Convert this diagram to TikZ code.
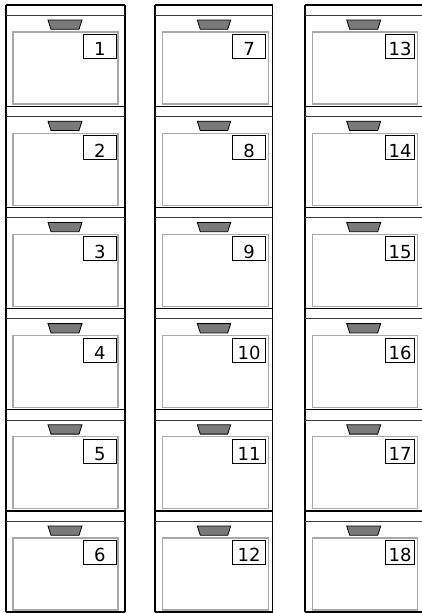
\documentclass[tikz,border=0pt]{standalone}
\usepackage{fontspec}
\setmainfont{DejaVu Sans}
\definecolor{handlefill}{HTML}{7A7A7A}
\definecolor{innergray}{HTML}{A8A8A8}
\definecolor{seconddark}{HTML}{3A3A3A}
\tikzset{
  edgeline/.style={draw=black, line width=1.3pt},
  topline/.style={draw=black, line width=1.2pt},
  secondline/.style={draw=seconddark, line width=1.1pt},
  handleshape/.style={fill=handlefill, draw=black, line width=0.8pt},
  innerbox/.style={draw=innergray, line width=1.2pt},
  numbox/.style={draw=black, line width=0.9pt, fill=white, inner xsep=0pt, inner ysep=0pt,
    text height=21.5pt, text depth=2.5pt, minimum height=24pt,
    font=\fontsize{18}{18}\selectfont, anchor=north west}
}
\begin{document}
\begin{tikzpicture}[x=1pt, y=-1pt]
\useasboundingbox (0,0) rectangle (422,613);
\clip (0,0) rectangle (422,613);
\foreach \c/\L/\R/\il/\ir/\bl/\br/\hl/\hr in {
  0/6/125/13/118/83/116/48/82,
  1/155/272.5/162.7/268.3/232.3/265/197.3/230.7,
  2/305/424/312.3/417.3/385/414.3/346.7/380.7} {
  \draw[edgeline] (\L,5) -- (\L,612.3);
  \draw[edgeline] (\R,5) -- (\R,612.3);
  \draw[topline] (\L,612) -- (\R,612);
  \foreach \r in {0,...,5} {
    \pgfmathsetmacro{\T}{5+101.2*\r}
    \pgfmathtruncatemacro{\n}{6*\c+\r+1}
    \draw[topline] (\L,\T) -- (\R,\T);
    \draw[secondline] (\L,\T+10.3) -- (\R,\T+10.3);
    \draw[handleshape] (\hl,\T+15) -- (\hr,\T+15) -- (\hr-3,\T+24.3) -- (\hl+3,\T+24.3) -- cycle;
    \draw[innerbox] (\il,\T+27) rectangle (\ir,\T+99);
    \pgfmathsetmacro{\bw}{\br-\bl}
    \node[numbox, minimum width=\bw pt] (num\n) at (\bl,\T+29) {\n};
  }
}
\end{tikzpicture}
\end{document}
